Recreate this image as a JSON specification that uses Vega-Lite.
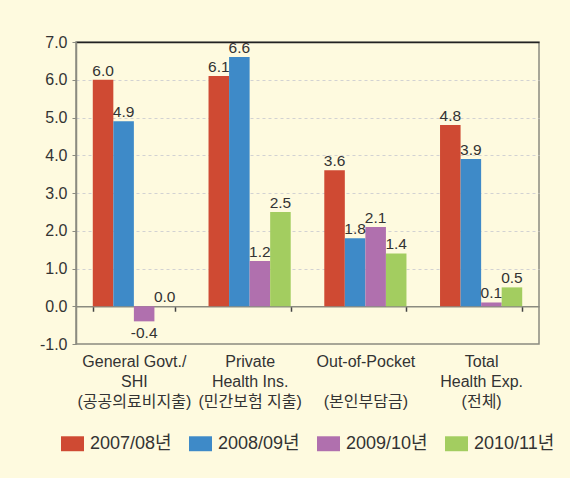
{
  "$schema": "https://vega.github.io/schema/vega-lite/v6.json",
  "width": 463,
  "height": 302,
  "autosize": {"type": "none"},
  "padding": {"left": 76, "top": 42, "right": 31, "bottom": 134},
  "background": "#FEFADF",
  "config": {
    "font": "Liberation Sans, Noto Sans CJK KR",
    "view": {"stroke": "#8b8b80", "strokeWidth": 1.5},
    "locale": {
      "number": {"decimal": ".", "thousands": ",", "grouping": [3], "currency": ["$", ""], "minus": "-"}
    }
  },
  "data": {
    "values": [
      {"cat": "General Govt./|SHI|(공공의료비지출)", "year": "2007/08년", "value": 6.0},
      {"cat": "General Govt./|SHI|(공공의료비지출)", "year": "2008/09년", "value": 4.9},
      {"cat": "General Govt./|SHI|(공공의료비지출)", "year": "2009/10년", "value": -0.4},
      {"cat": "General Govt./|SHI|(공공의료비지출)", "year": "2010/11년", "value": 0.0},
      {"cat": "Private|Health Ins.|(민간보험 지출)", "year": "2007/08년", "value": 6.1},
      {"cat": "Private|Health Ins.|(민간보험 지출)", "year": "2008/09년", "value": 6.6},
      {"cat": "Private|Health Ins.|(민간보험 지출)", "year": "2009/10년", "value": 1.2},
      {"cat": "Private|Health Ins.|(민간보험 지출)", "year": "2010/11년", "value": 2.5},
      {"cat": "Out-of-Pocket|\u200b|(본인부담금)", "year": "2007/08년", "value": 3.6},
      {"cat": "Out-of-Pocket|\u200b|(본인부담금)", "year": "2008/09년", "value": 1.8},
      {"cat": "Out-of-Pocket|\u200b|(본인부담금)", "year": "2009/10년", "value": 2.1},
      {"cat": "Out-of-Pocket|\u200b|(본인부담금)", "year": "2010/11년", "value": 1.4},
      {"cat": "Total|Health Exp.|(전체)", "year": "2007/08년", "value": 4.8},
      {"cat": "Total|Health Exp.|(전체)", "year": "2008/09년", "value": 3.9},
      {"cat": "Total|Health Exp.|(전체)", "year": "2009/10년", "value": 0.1},
      {"cat": "Total|Health Exp.|(전체)", "year": "2010/11년", "value": 0.5}
    ]
  },
  "encoding": {
    "x": {
      "field": "cat",
      "type": "nominal",
      "sort": null,
      "scale": {"paddingInner": 0.29, "paddingOuter": 0.145},
      "axis": {
        "title": null,
        "offset": -37.75,
        "labelAngle": 0,
        "labelExpr": "split(datum.label, '|')",
        "labelFontSize": 16,
        "labelLineHeight": 20,
        "labelColor": "#333333",
        "labelPadding": 42,
        "labelLimit": 0,
        "domainColor": "#8b8b80",
        "domainWidth": 1.5,
        "tickBand": "extent",
        "tickColor": "#444444",
        "tickWidth": 1.5,
        "tickSize": 5,
        "grid": false
      }
    },
    "xOffset": {"field": "year", "type": "nominal", "sort": null, "scale": {"paddingInner": 0, "paddingOuter": 0}},
    "y": {
      "field": "value",
      "type": "quantitative",
      "scale": {"domain": [-1, 7], "nice": false, "zero": false},
      "axis": {
        "title": null,
        "values": [-1, 0, 1, 2, 3, 4, 5, 6, 7],
        "format": ".1f",
        "labelFontSize": 16,
        "labelColor": "#333333",
        "labelPadding": 5,
        "tickSize": 4,
        "tickColor": "#8b8b80",
        "domainColor": "#8b8b80",
        "domainWidth": 1.5,
        "grid": true,
        "gridColor": {"condition": {"test": "datum.value == 7", "value": "#222222"}, "value": "#d2d2d2"},
        "gridDash": {"condition": {"test": "datum.value == 7", "value": []}, "value": [3, 3]},
        "gridWidth": {"condition": {"test": "datum.value == 7", "value": 1.5}, "value": 1},
        "gridOpacity": {"condition": {"test": "datum.value <= 0", "value": 0}, "value": 1}
      }
    }
  },
  "layer": [
    {
      "mark": {"type": "bar"},
      "encoding": {
        "color": {
          "field": "year",
          "type": "nominal",
          "sort": null,
          "scale": {
            "domain": ["2007/08년", "2008/09년", "2009/10년", "2010/11년"],
            "range": ["#CF4A33", "#3E8AC8", "#B070AE", "#A3CD60"]
          },
          "legend": {
            "title": null,
            "orient": "none",
            "direction": "horizontal",
            "legendX": -15,
            "legendY": 390,
            "padding": 0,
            "symbolType": "M-1,-0.65H1V0.65H-1Z",
            "symbolSize": 529,
            "symbolStrokeWidth": 0,
            "symbolOpacity": 1,
            "labelFontSize": 18,
            "labelColor": "#333333",
            "labelOffset": 6,
            "columnPadding": 17,
            "labelLimit": 0
          }
        }
      }
    },
    {
      "transform": [{"filter": "datum.value >= 0"}],
      "mark": {"type": "text", "baseline": "alphabetic", "dy": -4, "fontSize": 15.5, "color": "#333333"},
      "encoding": {"text": {"field": "value", "type": "quantitative", "format": ".1f"}}
    },
    {
      "transform": [{"filter": "datum.value < 0"}],
      "mark": {"type": "text", "baseline": "top", "dy": 5, "fontSize": 15.5, "color": "#333333"},
      "encoding": {"text": {"field": "value", "type": "quantitative", "format": ".1f"}}
    }
  ]
}
